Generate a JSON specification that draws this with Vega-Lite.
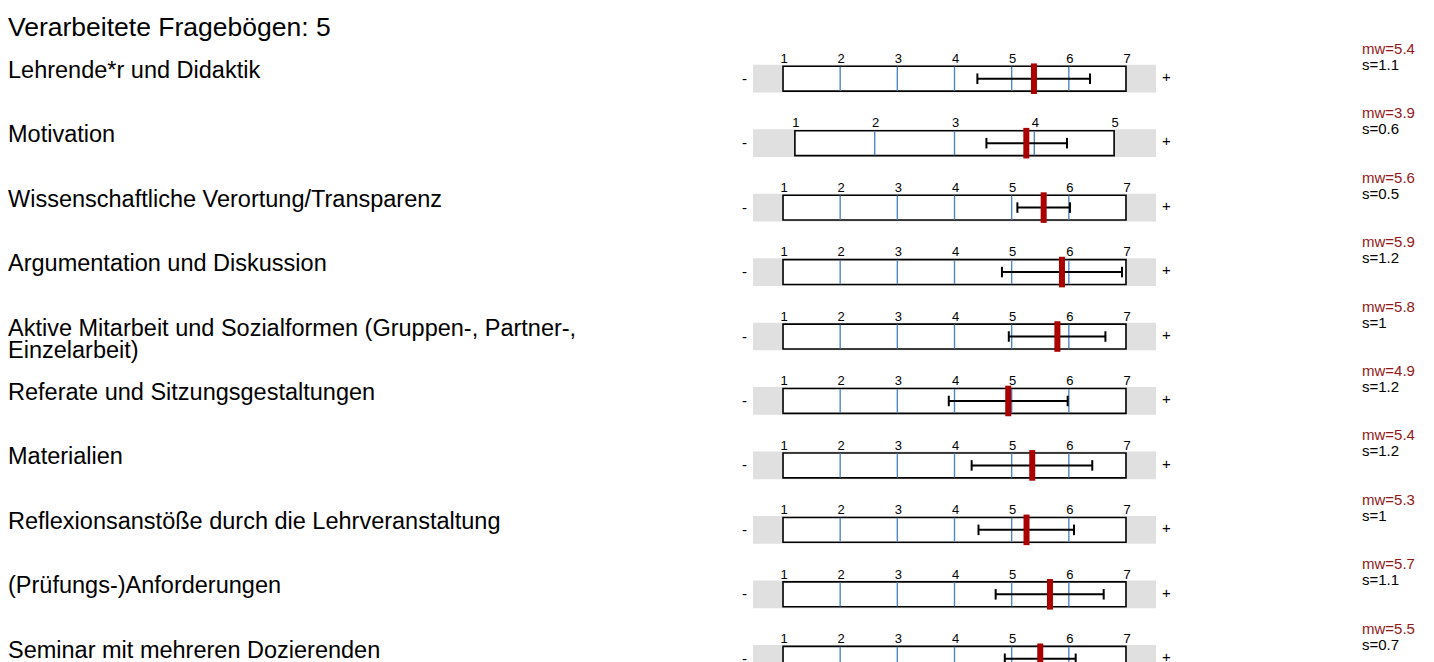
{
  "$schema": "https://vega.github.io/schema/vega-lite/v6.json",
  "background": "white",
  "padding": {"left": 8, "top": 14.5, "right": 0, "bottom": 0},
  "title": {"text": "Verarbeitete Fragebögen: 5", "anchor": "start", "frame": "group", "fontSize": 26.5, "fontWeight": "normal", "font": "Liberation Sans", "color": "#000000", "offset": -1},
  "spacing": 6,
  "config": {"view": {"stroke": null}, "font": "Liberation Sans"},
  "data": {"values": [
    {"kind": "item", "id": 1, "label": "Lehrende*r und Didaktik", "gmin": 0.475, "gmax": 7.525, "bmin": 1, "bmax": 7, "mean": 5.39, "lo": 4.40, "hi": 6.37, "mw": "mw=5.4", "s": "s=1.1"},
    {"kind": "item", "id": 2, "label": "Motivation", "gmin": 0.475, "gmax": 5.525, "bmin": 1, "bmax": 5, "mean": 3.90, "lo": 3.40, "hi": 4.41, "mw": "mw=3.9", "s": "s=0.6"},
    {"kind": "item", "id": 3, "label": "Wissenschaftliche Verortung/Transparenz", "gmin": 0.475, "gmax": 7.525, "bmin": 1, "bmax": 7, "mean": 5.56, "lo": 5.10, "hi": 6.02, "mw": "mw=5.6", "s": "s=0.5"},
    {"kind": "item", "id": 4, "label": "Argumentation und Diskussion", "gmin": 0.475, "gmax": 7.525, "bmin": 1, "bmax": 7, "mean": 5.88, "lo": 4.83, "hi": 6.93, "mw": "mw=5.9", "s": "s=1.2"},
    {"kind": "item", "id": 5, "label": "Aktive Mitarbeit und Sozialformen (Gruppen-, Partner-,\nEinzelarbeit)", "gmin": 0.475, "gmax": 7.525, "bmin": 1, "bmax": 7, "mean": 5.80, "lo": 4.95, "hi": 6.64, "mw": "mw=5.8", "s": "s=1"},
    {"kind": "item", "id": 6, "label": "Referate und Sitzungsgestaltungen", "gmin": 0.475, "gmax": 7.525, "bmin": 1, "bmax": 7, "mean": 4.94, "lo": 3.90, "hi": 5.98, "mw": "mw=4.9", "s": "s=1.2"},
    {"kind": "item", "id": 7, "label": "Materialien", "gmin": 0.475, "gmax": 7.525, "bmin": 1, "bmax": 7, "mean": 5.36, "lo": 4.30, "hi": 6.41, "mw": "mw=5.4", "s": "s=1.2"},
    {"kind": "item", "id": 8, "label": "Reflexionsanstöße durch die Lehrveranstaltung", "gmin": 0.475, "gmax": 7.525, "bmin": 1, "bmax": 7, "mean": 5.26, "lo": 4.42, "hi": 6.09, "mw": "mw=5.3", "s": "s=1"},
    {"kind": "item", "id": 9, "label": "(Prüfungs-)Anforderungen", "gmin": 0.475, "gmax": 7.525, "bmin": 1, "bmax": 7, "mean": 5.67, "lo": 4.72, "hi": 6.61, "mw": "mw=5.7", "s": "s=1.1"},
    {"kind": "item", "id": 10, "label": "Seminar mit mehreren Dozierenden", "gmin": 0.475, "gmax": 7.525, "bmin": 1, "bmax": 7, "mean": 5.50, "lo": 4.88, "hi": 6.12, "mw": "mw=5.5", "s": "s=0.7"},
    {"kind": "tick", "id": 1, "v": 1, "max": 7}, {"kind": "tick", "id": 1, "v": 2, "max": 7}, {"kind": "tick", "id": 1, "v": 3, "max": 7}, {"kind": "tick", "id": 1, "v": 4, "max": 7}, {"kind": "tick", "id": 1, "v": 5, "max": 7}, {"kind": "tick", "id": 1, "v": 6, "max": 7}, {"kind": "tick", "id": 1, "v": 7, "max": 7},
    {"kind": "tick", "id": 2, "v": 1, "max": 5}, {"kind": "tick", "id": 2, "v": 2, "max": 5}, {"kind": "tick", "id": 2, "v": 3, "max": 5}, {"kind": "tick", "id": 2, "v": 4, "max": 5}, {"kind": "tick", "id": 2, "v": 5, "max": 5},
    {"kind": "tick", "id": 3, "v": 1, "max": 7}, {"kind": "tick", "id": 3, "v": 2, "max": 7}, {"kind": "tick", "id": 3, "v": 3, "max": 7}, {"kind": "tick", "id": 3, "v": 4, "max": 7}, {"kind": "tick", "id": 3, "v": 5, "max": 7}, {"kind": "tick", "id": 3, "v": 6, "max": 7}, {"kind": "tick", "id": 3, "v": 7, "max": 7},
    {"kind": "tick", "id": 4, "v": 1, "max": 7}, {"kind": "tick", "id": 4, "v": 2, "max": 7}, {"kind": "tick", "id": 4, "v": 3, "max": 7}, {"kind": "tick", "id": 4, "v": 4, "max": 7}, {"kind": "tick", "id": 4, "v": 5, "max": 7}, {"kind": "tick", "id": 4, "v": 6, "max": 7}, {"kind": "tick", "id": 4, "v": 7, "max": 7},
    {"kind": "tick", "id": 5, "v": 1, "max": 7}, {"kind": "tick", "id": 5, "v": 2, "max": 7}, {"kind": "tick", "id": 5, "v": 3, "max": 7}, {"kind": "tick", "id": 5, "v": 4, "max": 7}, {"kind": "tick", "id": 5, "v": 5, "max": 7}, {"kind": "tick", "id": 5, "v": 6, "max": 7}, {"kind": "tick", "id": 5, "v": 7, "max": 7},
    {"kind": "tick", "id": 6, "v": 1, "max": 7}, {"kind": "tick", "id": 6, "v": 2, "max": 7}, {"kind": "tick", "id": 6, "v": 3, "max": 7}, {"kind": "tick", "id": 6, "v": 4, "max": 7}, {"kind": "tick", "id": 6, "v": 5, "max": 7}, {"kind": "tick", "id": 6, "v": 6, "max": 7}, {"kind": "tick", "id": 6, "v": 7, "max": 7},
    {"kind": "tick", "id": 7, "v": 1, "max": 7}, {"kind": "tick", "id": 7, "v": 2, "max": 7}, {"kind": "tick", "id": 7, "v": 3, "max": 7}, {"kind": "tick", "id": 7, "v": 4, "max": 7}, {"kind": "tick", "id": 7, "v": 5, "max": 7}, {"kind": "tick", "id": 7, "v": 6, "max": 7}, {"kind": "tick", "id": 7, "v": 7, "max": 7},
    {"kind": "tick", "id": 8, "v": 1, "max": 7}, {"kind": "tick", "id": 8, "v": 2, "max": 7}, {"kind": "tick", "id": 8, "v": 3, "max": 7}, {"kind": "tick", "id": 8, "v": 4, "max": 7}, {"kind": "tick", "id": 8, "v": 5, "max": 7}, {"kind": "tick", "id": 8, "v": 6, "max": 7}, {"kind": "tick", "id": 8, "v": 7, "max": 7},
    {"kind": "tick", "id": 9, "v": 1, "max": 7}, {"kind": "tick", "id": 9, "v": 2, "max": 7}, {"kind": "tick", "id": 9, "v": 3, "max": 7}, {"kind": "tick", "id": 9, "v": 4, "max": 7}, {"kind": "tick", "id": 9, "v": 5, "max": 7}, {"kind": "tick", "id": 9, "v": 6, "max": 7}, {"kind": "tick", "id": 9, "v": 7, "max": 7},
    {"kind": "tick", "id": 10, "v": 1, "max": 7}, {"kind": "tick", "id": 10, "v": 2, "max": 7}, {"kind": "tick", "id": 10, "v": 3, "max": 7}, {"kind": "tick", "id": 10, "v": 4, "max": 7}, {"kind": "tick", "id": 10, "v": 5, "max": 7}, {"kind": "tick", "id": 10, "v": 6, "max": 7}, {"kind": "tick", "id": 10, "v": 7, "max": 7}
  ]},
  "hconcat": [
    {
      "transform": [{"filter": "datum.kind == 'item'"}],
      "facet": {"row": {"field": "id", "type": "ordinal", "header": null}},
      "spacing": {"row": 10.45},
      "bounds": "flush",
      "spec": {
        "width": 739,
        "height": 53.5,
        "layer": [
          {
            "mark": {"type": "text", "align": "left", "baseline": "alphabetic", "x": 0, "dy": -1, "fontSize": 23.5, "lineBreak": "\n", "lineHeight": 22, "color": "#000000", "font": "Liberation Sans"},
            "encoding": {
              "y": {"datum": 0, "type": "quantitative", "scale": {"domain": [-1, 2.34375]}, "axis": null},
              "text": {"field": "label", "type": "nominal"}
            }
          },
          {
            "mark": {"type": "text", "align": "right", "baseline": "middle", "x": "width", "dy": 0, "fontSize": 15, "color": "#000000", "font": "Liberation Sans"},
            "encoding": {
              "y": {"datum": 0, "type": "quantitative", "axis": null},
              "text": {"value": "-"}
            }
          }
        ]
      }
    },
    {
      "facet": {"row": {"field": "id", "type": "ordinal", "header": null}},
      "spacing": {"row": 10.45},
      "bounds": "flush",
      "resolve": {"scale": {"x": "independent"}},
      "spec": {
        "width": 403,
        "height": 53.5,
        "layer": [
          {
            "transform": [{"filter": "datum.kind == 'item'"}],
            "mark": {"type": "rect", "color": "#e0e0e0"},
            "encoding": {
              "x": {"field": "gmin", "type": "quantitative", "scale": {"nice": false, "zero": false, "padding": 0}, "axis": null},
              "x2": {"field": "gmax"},
              "y": {"datum": -0.906, "type": "quantitative", "scale": {"domain": [-1, 2.34375]}, "axis": null},
              "y2": {"datum": 0.906}
            }
          },
          {
            "transform": [{"filter": "datum.kind == 'item'"}],
            "mark": {"type": "rect", "fill": "#ffffff", "stroke": "#000000", "strokeWidth": 1.6},
            "encoding": {
              "x": {"field": "bmin", "type": "quantitative", "axis": null},
              "x2": {"field": "bmax"},
              "y": {"datum": -0.8125, "type": "quantitative", "axis": null},
              "y2": {"datum": 0.8125}
            }
          },
          {
            "transform": [{"filter": "datum.kind == 'tick' && datum.v > 1 && datum.v < datum.max"}],
            "mark": {"type": "rule", "color": "#4f87c5", "strokeWidth": 1.4},
            "encoding": {
              "x": {"field": "v", "type": "quantitative", "axis": null},
              "y": {"datum": -0.79, "type": "quantitative", "axis": null},
              "y2": {"datum": 0.79}
            }
          },
          {
            "transform": [{"filter": "datum.kind == 'tick'"}],
            "mark": {"type": "text", "baseline": "alphabetic", "align": "center", "dy": -0.5, "dx": 1, "fontSize": 13, "color": "#000000", "font": "Liberation Sans"},
            "encoding": {
              "x": {"field": "v", "type": "quantitative", "axis": null},
              "y": {"datum": 1, "type": "quantitative", "axis": null},
              "text": {"field": "v", "type": "quantitative"}
            }
          },
          {
            "transform": [{"filter": "datum.kind == 'item'"}],
            "mark": {"type": "rule", "color": "#000000", "strokeWidth": 2},
            "encoding": {
              "x": {"field": "lo", "type": "quantitative", "axis": null},
              "x2": {"field": "hi"},
              "y": {"datum": 0, "type": "quantitative", "axis": null}
            }
          },
          {
            "transform": [{"filter": "datum.kind == 'item'"}],
            "mark": {"type": "rule", "color": "#000000", "strokeWidth": 2},
            "encoding": {
              "x": {"field": "lo", "type": "quantitative", "axis": null},
              "y": {"datum": -0.344, "type": "quantitative", "axis": null},
              "y2": {"datum": 0.344}
            }
          },
          {
            "transform": [{"filter": "datum.kind == 'item'"}],
            "mark": {"type": "rule", "color": "#000000", "strokeWidth": 2},
            "encoding": {
              "x": {"field": "hi", "type": "quantitative", "axis": null},
              "y": {"datum": -0.344, "type": "quantitative", "axis": null},
              "y2": {"datum": 0.344}
            }
          },
          {
            "transform": [{"filter": "datum.kind == 'item'"}],
            "mark": {"type": "rule", "color": "#aa0000", "strokeWidth": 6, "strokeCap": "butt"},
            "encoding": {
              "x": {"field": "mean", "type": "quantitative", "axis": null},
              "y": {"datum": -1, "type": "quantitative", "axis": null},
              "y2": {"datum": 1}
            }
          }
        ]
      }
    },
    {
      "transform": [{"filter": "datum.kind == 'item'"}],
      "facet": {"row": {"field": "id", "type": "ordinal", "header": null}},
      "spacing": {"row": 10.45},
      "bounds": "flush",
      "spec": {
        "width": 194,
        "height": 53.5,
        "mark": {"type": "text", "align": "left", "baseline": "middle", "x": 0, "dy": -1, "fontSize": 15, "color": "#000000", "font": "Liberation Sans"},
        "encoding": {
          "y": {"datum": 0, "type": "quantitative", "scale": {"domain": [-1, 2.34375]}, "axis": null},
          "text": {"value": "+"}
        }
      }
    },
    {
      "transform": [{"filter": "datum.kind == 'item'"}],
      "facet": {"row": {"field": "id", "type": "ordinal", "header": null}},
      "spacing": {"row": 10.45},
      "bounds": "flush",
      "spec": {
        "width": 60,
        "height": 53.5,
        "layer": [
          {
            "mark": {"type": "text", "align": "left", "baseline": "alphabetic", "x": 0, "dy": -25, "fontSize": 15, "color": "#921818", "font": "Liberation Sans"},
            "encoding": {
              "y": {"datum": 0, "type": "quantitative", "scale": {"domain": [-1, 2.34375]}, "axis": null},
              "text": {"field": "mw", "type": "nominal"}
            }
          },
          {
            "mark": {"type": "text", "align": "left", "baseline": "alphabetic", "x": 0, "dy": -9, "fontSize": 15, "color": "#000000", "font": "Liberation Sans"},
            "encoding": {
              "y": {"datum": 0, "type": "quantitative", "axis": null},
              "text": {"field": "s", "type": "nominal"}
            }
          }
        ]
      }
    }
  ]
}
